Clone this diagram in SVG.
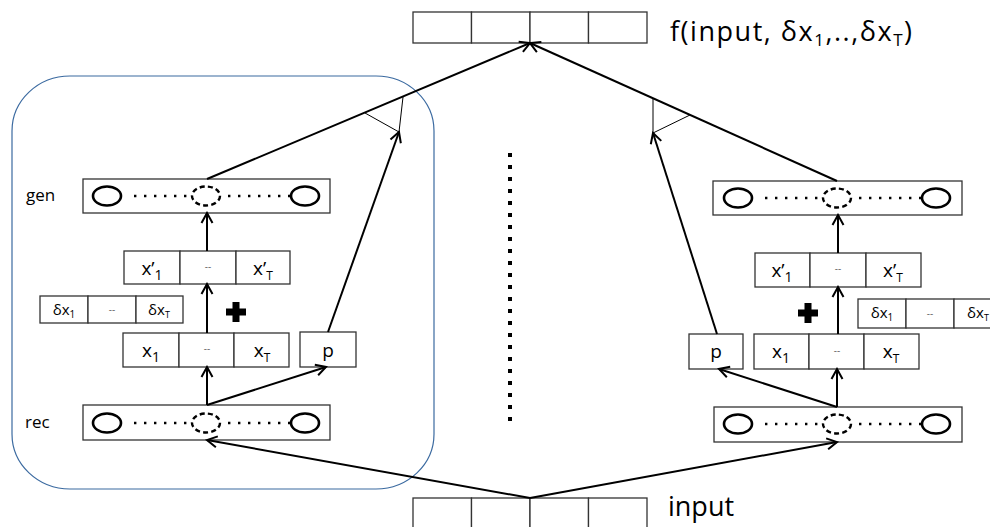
<svg xmlns="http://www.w3.org/2000/svg" width="990" height="527" viewBox="0 0 990 527">
<style>
.bx{fill:#fff;stroke:#333;stroke-width:1.3}
.c{fill:none;stroke:#000;stroke-width:2.6}
.cd{fill:none;stroke:#000;stroke-width:2.4;stroke-dasharray:5 3.2}
.dots{stroke:#000;stroke-width:2.4;stroke-dasharray:2.4 7.6}
.ln{fill:none;stroke:#000;stroke-width:2}
.thin{fill:none;stroke:#000;stroke-width:1}
.t{font-family:"Open Sans","Liberation Sans",Arial,sans-serif;fill:#000}
.cell{font-family:"Open Sans","Liberation Sans",Arial,sans-serif;font-size:19px;fill:#000;text-anchor:middle}
.dl{font-family:"Open Sans","Liberation Sans",Arial,sans-serif;font-size:15px;fill:#000;text-anchor:middle}
.dash{font-family:"Open Sans","Liberation Sans",Arial,sans-serif;font-size:10px;fill:#666;text-anchor:middle}
.plus{fill:#000}
</style>
<defs>
<marker id="arr" viewBox="-12 -7 14 14" markerWidth="14" markerHeight="14" refX="0" refY="0" orient="auto" markerUnits="userSpaceOnUse">
<path d="M-10,-5.5 L0,0 L-10,5.5" fill="none" stroke="#000" stroke-width="2"/>
</marker>
</defs>

<g id="panel">
<rect x="12" y="76" width="422" height="413" rx="58" ry="55" fill="none" stroke="#3b6aa0" stroke-width="1.2"/>
</g>

<g id="output">
<rect class="bx" x="413" y="12" width="58.5" height="31"/>
<rect class="bx" x="471.5" y="12" width="58.5" height="31"/>
<rect class="bx" x="530" y="12" width="58.5" height="31"/>
<rect class="bx" x="588.5" y="12" width="58.5" height="31"/>
<text class="t" x="670" y="41" font-size="27" textLength="242" lengthAdjust="spacing">f(input, δx<tspan font-size="17" dy="5">1</tspan><tspan dy="-5">,..,δx</tspan><tspan font-size="17" dy="5">T</tspan><tspan dy="-5">)</tspan></text>
</g>

<g id="input">
<rect class="bx" x="413" y="498" width="58.5" height="34"/>
<rect class="bx" x="471.5" y="498" width="58.5" height="34"/>
<rect class="bx" x="530" y="498" width="58.5" height="34"/>
<rect class="bx" x="588.5" y="498" width="58.5" height="34"/>
<text class="t" x="668" y="516" font-size="27">input</text>
</g>

<g id="gen-left">
<text class="t" x="26" y="201" font-size="17">gen</text>
<rect class="bx" x="83" y="179" width="247" height="34"/>
<ellipse class="c" cx="107" cy="196" rx="14" ry="9.5"/>
<ellipse class="cd" cx="206" cy="196" rx="14" ry="9.5"/>
<ellipse class="c" cx="305" cy="196" rx="14" ry="9.5"/>
<line class="dots" x1="134" y1="196" x2="190" y2="196"/>
<line class="dots" x1="228" y1="196" x2="290" y2="196"/>
</g>

<g id="xprime-left">
<rect class="bx" x="124" y="251" width="56" height="33"/>
<rect class="bx" x="180" y="251" width="56" height="33"/>
<rect class="bx" x="236" y="251" width="54" height="33"/>
<text class="cell" x="152" y="275">x’<tspan font-size="14" dy="5">1</tspan></text>
<text class="dash" x="208" y="270">--</text>
<text class="cell" x="263" y="275">x’<tspan font-size="12" dy="5">T</tspan></text>
</g>

<g id="delta-left">
<rect class="bx" x="40" y="296" width="48" height="27"/>
<rect class="bx" x="88" y="296" width="48" height="27"/>
<rect class="bx" x="136" y="296" width="47" height="27"/>
<text class="dl" x="64" y="315">δx<tspan font-size="10" dy="3">1</tspan></text>
<text class="dash" x="112" y="313">--</text>
<text class="dl" x="159" y="315">δx<tspan font-size="9" dy="3">T</tspan></text>
</g>

<g id="plus-left">
<path class="plus" d="M232.5,302 h7 v6.5 h6.5 v7 h-6.5 v6.5 h-7 v-6.5 h-6.5 v-7 h6.5 z"/>
</g>

<g id="x-left">
<rect class="bx" x="123" y="333" width="56" height="34"/>
<rect class="bx" x="179" y="333" width="55" height="34"/>
<rect class="bx" x="234" y="333" width="55" height="34"/>
<text class="cell" x="151" y="357">x<tspan font-size="14" dy="5">1</tspan></text>
<text class="dash" x="207" y="352">--</text>
<text class="cell" x="262" y="357">x<tspan font-size="12" dy="5">T</tspan></text>
</g>

<g id="p-left">
<rect class="bx" x="300" y="332" width="56" height="35"/>
<text class="cell" x="328" y="357" font-size="21">p</text>
</g>

<g id="rec-left">
<text class="t" x="25" y="428" font-size="17">rec</text>
<rect class="bx" x="83" y="405" width="247" height="35"/>
<ellipse class="c" cx="107" cy="423" rx="14" ry="9.5"/>
<ellipse class="cd" cx="206" cy="423" rx="14" ry="9.5"/>
<ellipse class="c" cx="305" cy="423" rx="14" ry="9.5"/>
<line class="dots" x1="134" y1="423" x2="190" y2="423"/>
<line class="dots" x1="228" y1="423" x2="290" y2="423"/>
</g>

<g id="gen-right">
<rect class="bx" x="713" y="181" width="249" height="34"/>
<ellipse class="c" cx="738" cy="198" rx="14" ry="9.5"/>
<ellipse class="cd" cx="837" cy="198" rx="14" ry="9.5"/>
<ellipse class="c" cx="936" cy="198" rx="14" ry="9.5"/>
<line class="dots" x1="765" y1="198" x2="821" y2="198"/>
<line class="dots" x1="859" y1="198" x2="921" y2="198"/>
</g>

<g id="xprime-right">
<rect class="bx" x="755" y="253" width="55" height="34"/>
<rect class="bx" x="810" y="253" width="56" height="34"/>
<rect class="bx" x="866" y="253" width="55" height="34"/>
<text class="cell" x="782" y="277">x’<tspan font-size="14" dy="5">1</tspan></text>
<text class="dash" x="838" y="272">--</text>
<text class="cell" x="893" y="277">x’<tspan font-size="12" dy="5">T</tspan></text>
</g>

<g id="delta-right">
<rect class="bx" x="858" y="299" width="48" height="29"/>
<rect class="bx" x="906" y="299" width="48" height="29"/>
<rect class="bx" x="954" y="299" width="48" height="29"/>
<text class="dl" x="882" y="318">δx<tspan font-size="10" dy="3">1</tspan></text>
<text class="dash" x="930" y="317">--</text>
<text class="dl" x="978" y="318">δx<tspan font-size="9" dy="3">T</tspan></text>
</g>

<g id="plus-right">
<path class="plus" d="M804.5,303 h7 v6.5 h6.5 v7 h-6.5 v6.5 h-7 v-6.5 h-6.5 v-7 h6.5 z"/>
</g>

<g id="x-right">
<rect class="bx" x="754" y="334" width="55" height="35"/>
<rect class="bx" x="809" y="334" width="55" height="35"/>
<rect class="bx" x="864" y="334" width="55" height="35"/>
<text class="cell" x="781" y="358">x<tspan font-size="14" dy="5">1</tspan></text>
<text class="dash" x="837" y="354">--</text>
<text class="cell" x="891" y="358">x<tspan font-size="12" dy="5">T</tspan></text>
</g>

<g id="p-right">
<rect class="bx" x="689" y="334" width="54" height="35"/>
<text class="cell" x="716" y="358" font-size="21">p</text>
</g>

<g id="rec-right">
<rect class="bx" x="714" y="407" width="248" height="35"/>
<ellipse class="c" cx="738" cy="424" rx="14" ry="9.5"/>
<ellipse class="cd" cx="837" cy="424" rx="14" ry="9.5"/>
<ellipse class="c" cx="936" cy="424" rx="14" ry="9.5"/>
<line class="dots" x1="765" y1="424" x2="821" y2="424"/>
<line class="dots" x1="859" y1="424" x2="921" y2="424"/>
</g>

<g id="ellipsis">
<line x1="510" y1="153" x2="510" y2="428" stroke="#000" stroke-width="4" stroke-dasharray="4 8"/>
</g>

<g id="connectors">
<line class="ln" x1="207" y1="179" x2="530" y2="43" marker-end="url(#arr)"/>
<line class="ln" x1="837" y1="181" x2="530" y2="43" marker-end="url(#arr)"/>
<polyline class="thin" points="365,113 399,132 403,97"/>
<polyline class="thin" points="690,115 653,133 653,98"/>
<line class="ln" x1="328" y1="332" x2="399" y2="132" marker-end="url(#arr)"/>
<line class="ln" x1="717" y1="334" x2="653" y2="133" marker-end="url(#arr)"/>
<line class="ln" x1="207" y1="251" x2="207" y2="213" marker-end="url(#arr)"/>
<line class="ln" x1="207" y1="333" x2="207" y2="284" marker-end="url(#arr)"/>
<line class="ln" x1="207" y1="405" x2="207" y2="367" marker-end="url(#arr)"/>
<line class="ln" x1="207" y1="405" x2="326" y2="367" marker-end="url(#arr)"/>
<line class="ln" x1="838" y1="253" x2="838" y2="215" marker-end="url(#arr)"/>
<line class="ln" x1="838" y1="334" x2="838" y2="287" marker-end="url(#arr)"/>
<line class="ln" x1="837" y1="407" x2="837" y2="369" marker-end="url(#arr)"/>
<line class="ln" x1="837" y1="407" x2="719" y2="369" marker-end="url(#arr)"/>
<line class="ln" x1="530" y1="498" x2="207" y2="440" marker-end="url(#arr)"/>
<line class="ln" x1="530" y1="498" x2="837" y2="442" marker-end="url(#arr)"/>
</g>
</svg>
